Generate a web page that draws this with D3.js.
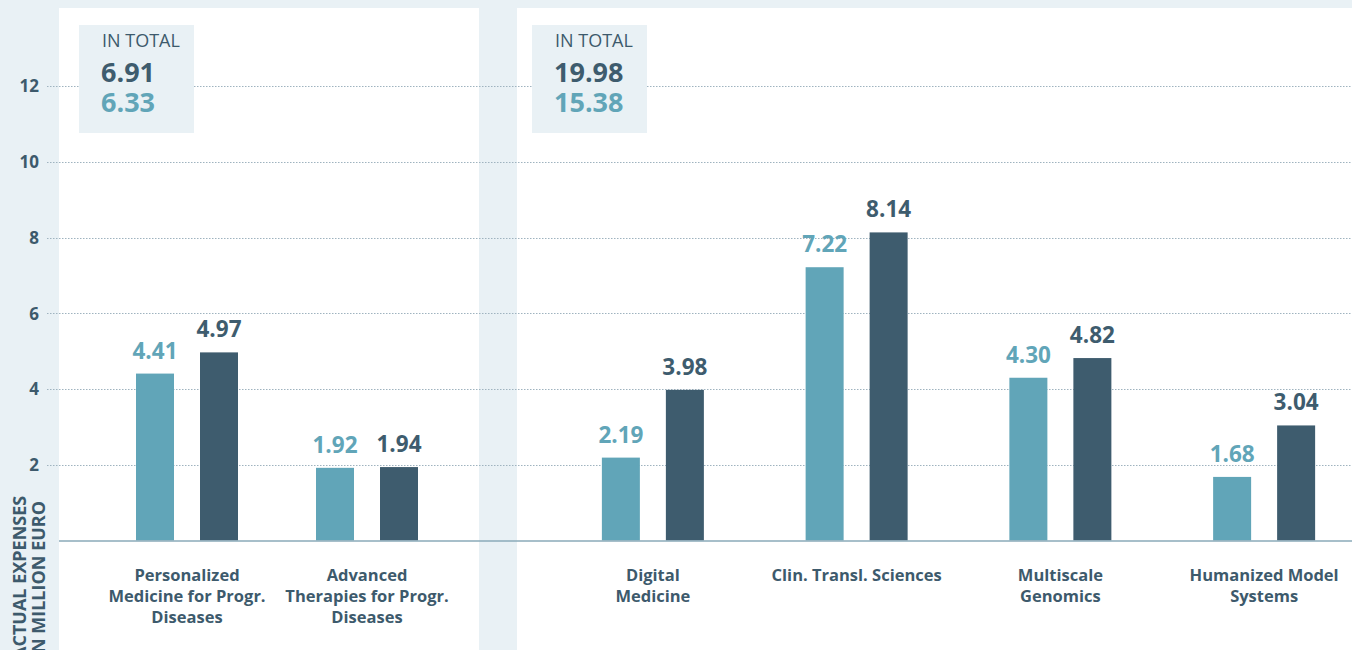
<!DOCTYPE html>
<html>
<head>
<meta charset="utf-8">
<script src="https://cdn.jsdelivr.net/npm/d3@7"></script>
<style>
  html, body { margin: 0; padding: 0; background: #e9f1f5; }
  svg { display: block; font-family: "Open Sans", "Noto Sans", sans-serif; }
</style>
</head>
<body>
<script>
// data
const leftCategories = [["Personalized", "Medicine for Progr.", "Diseases"], ["Advanced", "Therapies for Progr.", "Diseases"]];
const rightCategories = [["Digital", "Medicine"], ["Clin. Transl. Sciences"], ["Multiscale", "Genomics"], ["Humanized Model", "Systems"]];
const leftLight = [4.41, 1.92];
const leftDark = [4.97, 1.94];
const rightLight = [2.19, 7.22, 4.30, 1.68];
const rightDark = [3.98, 8.14, 4.82, 3.04];
const leftTotals = ["6.91", "6.33"];
const rightTotals = ["19.98", "15.38"];
const yTicks = [2, 4, 6, 8, 10, 12];
const axisTitle = ["ACTUAL EXPENSES", "IN MILLION EURO"];

const W = 1352, H = 650;
const light = "#61a5b8", dark = "#3e5c6e", ink = "#3d5a6c", bg = "#e9f1f5";

const svg = d3.select("body").append("svg")
    .attr("width", W)
    .attr("height", H);

svg.append("rect").attr("width", W).attr("height", H).attr("fill", bg);

// panels
svg.append("rect").attr("x", 59).attr("y", 8).attr("width", 420).attr("height", H).attr("fill", "#fff");
svg.append("rect").attr("x", 517).attr("y", 8).attr("width", W - 517).attr("height", H).attr("fill", "#fff");

const y = d3.scaleLinear().domain([0, 12]).range([540.5, 86.3]);

// grid
const grid = svg.append("g");
grid.selectAll("line")
  .data(yTicks)
  .join("line")
    .attr("x1", 47).attr("x2", W)
    .attr("y1", d => Math.round(y(d)) + 0.5)
    .attr("y2", d => Math.round(y(d)) + 0.5)
    .attr("stroke", "#9fb3bf")
    .attr("stroke-width", 1)
    .attr("stroke-dasharray", "1.5,1.5");

grid.selectAll("text")
  .data(yTicks)
  .join("text")
    .attr("x", 39)
    .attr("y", d => y(d))
    .attr("dy", "0.36em")
    .attr("text-anchor", "end")
    .attr("fill", ink)
    .attr("font-weight", 700)
    .attr("font-size", 17)
    .text(d => d);

// axis title (cut off at the bottom edge, as in the original)
svg.append("g")
    .attr("transform", "rotate(-90)")
  .selectAll("text")
  .data(axisTitle)
  .join("text")
    .attr("x", -659)
    .attr("y", (d, i) => 26 + i * 18.5)
    .attr("fill", ink)
    .attr("font-weight", 700)
    .attr("font-size", 18)
    .text(d => d);

// inner scale for the two bars of a group
const inner = d3.scaleBand().domain(["light", "dark"]).range([-51, 51]).paddingInner(0.40625);

function panel(categories, lightVals, darkVals, range, totals, boxX) {
  const x = d3.scaleBand().domain(d3.range(categories.length)).range(range);
  const g = svg.append("g");

  const rows = categories.map((c, i) => ({i, c, light: lightVals[i], dark: darkVals[i]}));

  const grp = g.selectAll("g.grp")
    .data(rows)
    .join("g")
      .attr("class", "grp")
      .attr("transform", d => `translate(${x(d.i) + x.bandwidth() / 2},0)`);

  grp.selectAll("rect")
    .data(d => [["light", d.light], ["dark", d.dark]])
    .join("rect")
      .attr("x", d => inner(d[0]))
      .attr("width", inner.bandwidth())
      .attr("y", d => y(d[1]))
      .attr("height", d => y(0) - y(d[1]))
      .attr("fill", d => d[0] === "light" ? light : dark);

  grp.selectAll("text.val")
    .data(d => [["light", d.light], ["dark", d.dark]])
    .join("text")
      .attr("class", "val")
      .attr("x", d => inner(d[0]) + inner.bandwidth() / 2)
      .attr("y", d => y(d[1]) - 15)
      .attr("text-anchor", "middle")
      .attr("fill", d => d[0] === "light" ? light : dark)
      .attr("font-weight", 700)
      .attr("font-size", 22.5)
      .text(d => d[1].toFixed(2));

  grp.selectAll("text.cat")
    .data(d => d.c)
    .join("text")
      .attr("class", "cat")
      .attr("x", 0)
      .attr("y", (d, i) => 581 + i * 21.2)
      .attr("text-anchor", "middle")
      .attr("fill", ink)
      .attr("font-weight", 700)
      .attr("font-size", 16.5)
      .text(d => d);

  // total box
  const box = svg.append("g").attr("transform", `translate(${boxX},25)`);
  box.append("rect").attr("width", 115).attr("height", 108).attr("fill", bg);
  box.append("text").attr("x", 23).attr("y", 21.7)
      .attr("fill", ink).attr("font-size", 18).text("IN TOTAL");
  box.append("text").attr("x", 22).attr("y", 57)
      .attr("fill", dark).attr("font-weight", 700).attr("font-size", 27).text(totals[0]);
  box.append("text").attr("x", 22).attr("y", 86.5)
      .attr("fill", light).attr("font-weight", 700).attr("font-size", 27).text(totals[1]);
}

panel(leftCategories, leftLight, leftDark, [97, 457], leftTotals, 79);
panel(rightCategories, rightLight, rightDark, [551, 1366], rightTotals, 532);

// baseline
svg.append("line")
    .attr("x1", 59).attr("x2", W)
    .attr("y1", y(0) + 0.5).attr("y2", y(0) + 0.5)
    .attr("stroke", "#8aaab8")
    .attr("stroke-width", 1.5);
</script>
</body>
</html>
